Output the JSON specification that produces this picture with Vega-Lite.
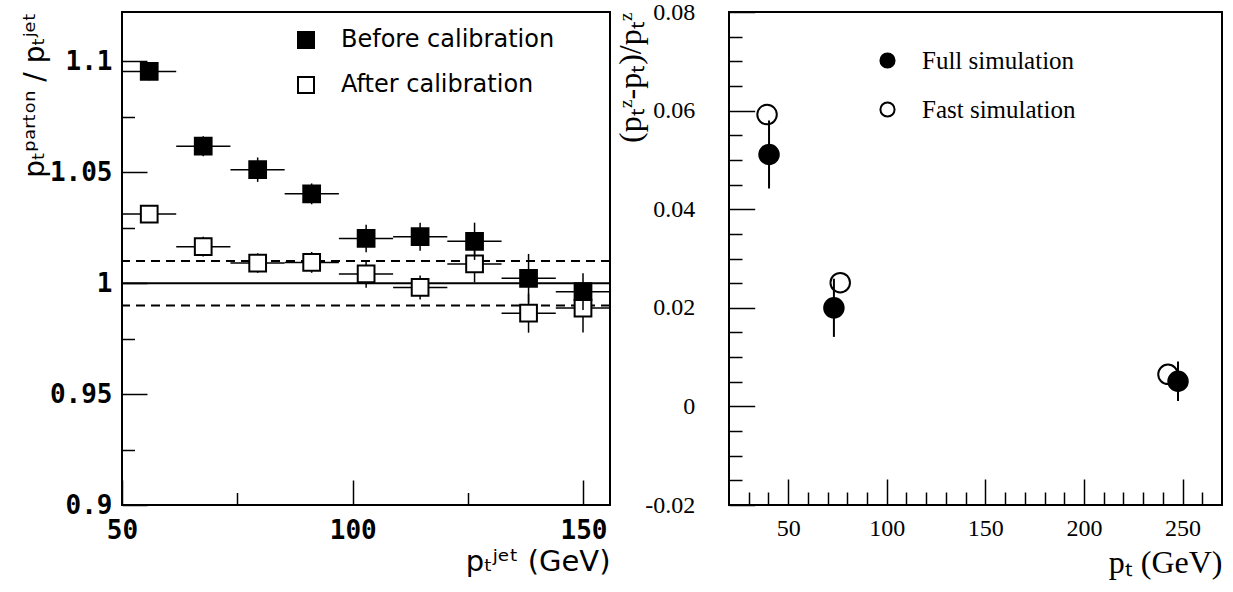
{
  "$schema": "https://vega.github.io/schema/vega-lite/v6.json",
  "padding": {"left": 20, "top": -1, "right": 5, "bottom": 5},
  "config": {
    "view": {"stroke": "black", "strokeWidth": 2},
    "axis": {"grid": false, "domain": false, "tickColor": "black", "labelColor": "black", "titleColor": "black", "labelFlush": false, "labelOverlap": false, "tickWidth": 1.5, "titleFontWeight": "normal"}
  },
  "datasets": {
    "calib": [
      {"series": "Before calibration", "pt": 55.9, "ptlo": 50, "pthi": 61.75, "r": 1.0955, "rlo": 1.0915, "rhi": 1.0995},
      {"series": "Before calibration", "pt": 67.6, "ptlo": 61.75, "pthi": 73.5, "r": 1.0618, "rlo": 1.0573, "rhi": 1.0663},
      {"series": "Before calibration", "pt": 79.4, "ptlo": 73.5, "pthi": 85.25, "r": 1.0512, "rlo": 1.0457, "rhi": 1.0567},
      {"series": "Before calibration", "pt": 91.1, "ptlo": 85.25, "pthi": 97, "r": 1.0403, "rlo": 1.0356, "rhi": 1.045},
      {"series": "Before calibration", "pt": 102.9, "ptlo": 97, "pthi": 108.75, "r": 1.0202, "rlo": 1.014, "rhi": 1.0264},
      {"series": "Before calibration", "pt": 114.6, "ptlo": 108.75, "pthi": 120.5, "r": 1.021, "rlo": 1.0147, "rhi": 1.0273},
      {"series": "Before calibration", "pt": 126.4, "ptlo": 120.5, "pthi": 132.25, "r": 1.0189, "rlo": 1.0105, "rhi": 1.0273},
      {"series": "Before calibration", "pt": 138.1, "ptlo": 132.25, "pthi": 144, "r": 1.0022, "rlo": 0.9912, "rhi": 1.0132},
      {"series": "Before calibration", "pt": 149.9, "ptlo": 144, "pthi": 155.75, "r": 0.9962, "rlo": 0.9879, "rhi": 1.0045},
      {"series": "After calibration", "pt": 55.9, "ptlo": 50, "pthi": 61.75, "r": 1.0312, "rlo": 1.0272, "rhi": 1.0352},
      {"series": "After calibration", "pt": 67.6, "ptlo": 61.75, "pthi": 73.5, "r": 1.0165, "rlo": 1.012, "rhi": 1.021},
      {"series": "After calibration", "pt": 79.4, "ptlo": 73.5, "pthi": 85.25, "r": 1.0091, "rlo": 1.0047, "rhi": 1.0135},
      {"series": "After calibration", "pt": 91.1, "ptlo": 85.25, "pthi": 97, "r": 1.0094, "rlo": 1.0047, "rhi": 1.0141},
      {"series": "After calibration", "pt": 102.9, "ptlo": 97, "pthi": 108.75, "r": 1.0042, "rlo": 0.998, "rhi": 1.0104},
      {"series": "After calibration", "pt": 114.6, "ptlo": 108.75, "pthi": 120.5, "r": 0.9981, "rlo": 0.9927, "rhi": 1.0035},
      {"series": "After calibration", "pt": 126.4, "ptlo": 120.5, "pthi": 132.25, "r": 1.0087, "rlo": 1.0004, "rhi": 1.017},
      {"series": "After calibration", "pt": 138.1, "ptlo": 132.25, "pthi": 144, "r": 0.9865, "rlo": 0.9777, "rhi": 0.9953},
      {"series": "After calibration", "pt": 149.9, "ptlo": 144, "pthi": 155.75, "r": 0.9888, "rlo": 0.9778, "rhi": 0.9998}
    ],
    "sim": [
      {"sim": "Full simulation", "pt": 40.3, "d": 0.0511, "dlo": 0.0442, "dhi": 0.058},
      {"sim": "Full simulation", "pt": 73.2, "d": 0.020, "dlo": 0.0141, "dhi": 0.0259},
      {"sim": "Full simulation", "pt": 247.7, "d": 0.0051, "dlo": 0.0011, "dhi": 0.0091},
      {"sim": "Fast simulation", "pt": 39.3, "d": 0.0592},
      {"sim": "Fast simulation", "pt": 76.4, "d": 0.0251},
      {"sim": "Fast simulation", "pt": 242.6, "d": 0.0065}
    ]
  },
  "spacing": 1,
  "resolve": {"scale": {"fill": "independent"}, "legend": {"fill": "independent"}},
  "hconcat": [
    {
      "width": 488,
      "height": 493,
      "resolve": {"axis": {"x": "independent", "y": "independent"}},
      "layer": [
        {
          "data": {"values": [{"ref": 0.99}, {"ref": 1.01}]},
          "mark": {"type": "rule", "strokeDash": [9, 6], "strokeWidth": 2, "color": "black"},
          "encoding": {"y": {"field": "ref", "type": "quantitative", "scale": {"domain": [0.9, 1.1223], "nice": false, "zero": false}, "axis": null}}
        },
        {
          "data": {"values": [{"ref": 1}]},
          "mark": {"type": "rule", "strokeWidth": 2, "color": "black"},
          "encoding": {"y": {"field": "ref", "type": "quantitative", "axis": null}}
        },
        {
          "data": {"name": "calib"},
          "transform": [{"filter": "datum.series == 'After calibration'"}],
          "mark": {"type": "rule", "strokeWidth": 1.5, "color": "black"},
          "encoding": {
            "x": {"field": "ptlo", "type": "quantitative", "scale": {"domain": [50, 155.75], "nice": false, "zero": false},
              "axis": {"orient": "bottom", "values": [50, 100, 150], "tickSize": -25, "labelPadding": 37, "labelFont": "DejaVu Sans Mono", "labelFontWeight": "bold", "labelFontSize": 26,
                "title": "pₜʲᵉᵗ (GeV)", "titleFont": "DejaVu Sans", "titleFontSize": 29, "titleAnchor": "end", "titlePadding": 4}},
            "x2": {"field": "pthi"},
            "y": {"field": "r", "type": "quantitative",
              "axis": {"orient": "left", "values": [0.9, 0.95, 1, 1.05, 1.1], "format": "~g", "tickSize": -25, "labelPadding": 35, "labelFont": "DejaVu Sans Mono", "labelFontWeight": "bold", "labelFontSize": 26,
                "title": "pₜᵖᵃʳᵗᵒⁿ / pₜʲᵉᵗ", "titleFont": "DejaVu Sans", "titleFontSize": 28, "titleAnchor": "end", "titlePadding": 0}}
          }
        },
        {
          "data": {"name": "calib"},
          "transform": [{"filter": "datum.series == 'After calibration'"}],
          "mark": {"type": "rule", "strokeWidth": 1.5, "color": "black"},
          "encoding": {
            "x": {"field": "pt", "type": "quantitative", "axis": {"orient": "bottom", "values": [75, 125], "tickSize": -12.5, "labels": false, "title": null}},
            "y": {"field": "rlo", "type": "quantitative", "axis": {"orient": "left", "values": [0.925, 0.975, 1.025, 1.075], "tickSize": -12.5, "labels": false, "title": null}},
            "y2": {"field": "rhi"}
          }
        },
        {
          "data": {"name": "calib"},
          "transform": [{"filter": "datum.series == 'After calibration'"}],
          "mark": {"type": "point", "shape": "square", "filled": true, "size": 280, "stroke": "black", "strokeWidth": 2, "opacity": 1},
          "encoding": {
            "x": {"field": "pt", "type": "quantitative", "axis": null},
            "y": {"field": "r", "type": "quantitative", "axis": null},
            "fill": {"field": "series", "type": "nominal", "scale": {"domain": ["Before calibration", "After calibration"], "range": ["black", "white"]},
              "legend": {"orient": "none", "legendX": 172, "legendY": 16, "title": null, "symbolType": "square", "symbolSize": 256, "symbolStrokeColor": "black", "symbolStrokeWidth": 2, "symbolOpacity": 1,
                "labelFont": "DejaVu Sans", "labelFontSize": 24, "labelColor": "black", "labelOffset": 23, "rowPadding": 21, "labelLimit": 400, "padding": 0}}
          }
        },
        {
          "data": {"name": "calib"},
          "transform": [{"filter": "datum.series == 'Before calibration'"}],
          "mark": {"type": "rule", "strokeWidth": 1.5, "color": "black"},
          "encoding": {
            "x": {"field": "ptlo", "type": "quantitative", "axis": null},
            "x2": {"field": "pthi"},
            "y": {"field": "r", "type": "quantitative", "axis": null}
          }
        },
        {
          "data": {"name": "calib"},
          "transform": [{"filter": "datum.series == 'Before calibration'"}],
          "mark": {"type": "rule", "strokeWidth": 1.5, "color": "black"},
          "encoding": {
            "x": {"field": "pt", "type": "quantitative", "axis": null},
            "y": {"field": "rlo", "type": "quantitative", "axis": null},
            "y2": {"field": "rhi"}
          }
        },
        {
          "data": {"name": "calib"},
          "transform": [{"filter": "datum.series == 'Before calibration'"}],
          "mark": {"type": "point", "shape": "square", "filled": true, "size": 280, "stroke": "black", "strokeWidth": 2, "opacity": 1},
          "encoding": {
            "x": {"field": "pt", "type": "quantitative", "axis": null},
            "y": {"field": "r", "type": "quantitative", "axis": null},
            "fill": {"field": "series", "type": "nominal"}
          }
        }
      ]
    },
    {
      "width": 493,
      "height": 493,
      "resolve": {"axis": {"x": "independent", "y": "independent"}},
      "layer": [
        {
          "data": {"name": "sim"},
          "transform": [{"filter": "datum.sim == 'Fast simulation'"}],
          "mark": {"type": "point", "shape": "circle", "filled": true, "size": 380, "stroke": "black", "strokeWidth": 2, "opacity": 1},
          "encoding": {
            "x": {"field": "pt", "type": "quantitative", "scale": {"domain": [20, 270], "nice": false, "zero": false},
              "axis": {"orient": "bottom", "values": [30, 40, 60, 70, 80, 90, 110, 120, 130, 140, 160, 170, 180, 190, 210, 220, 230, 240, 260], "tickSize": -13, "labels": false, "title": null}},
            "y": {"field": "d", "type": "quantitative", "scale": {"domain": [-0.02, 0.08], "nice": false, "zero": false},
              "axis": {"orient": "left", "values": [-0.015, -0.01, -0.005, 0.005, 0.01, 0.015, 0.025, 0.03, 0.035, 0.045, 0.05, 0.055, 0.065, 0.07, 0.075], "tickSize": -13, "labels": false, "title": null}},
            "fill": {"field": "sim", "type": "nominal", "scale": {"domain": ["Full simulation", "Fast simulation"], "range": ["black", "white"]},
              "legend": {"orient": "none", "legendX": 146, "legendY": 36, "title": null, "symbolType": "circle", "symbolSize": 200, "symbolStrokeColor": "black", "symbolStrokeWidth": 2, "symbolOpacity": 1,
                "labelFont": "Liberation Serif", "labelFontSize": 25, "labelColor": "black", "labelOffset": 22, "rowPadding": 23, "labelLimit": 400, "padding": 0}}
          }
        },
        {
          "data": {"name": "sim"},
          "transform": [{"filter": "datum.sim == 'Full simulation'"}],
          "mark": {"type": "rule", "strokeWidth": 2, "color": "black"},
          "encoding": {
            "x": {"field": "pt", "type": "quantitative",
              "axis": {"orient": "bottom", "values": [50, 100, 150, 200, 250], "tickSize": -26, "labelPadding": 37, "labelFont": "Liberation Serif", "labelFontSize": 24,
                "title": "pₜ (GeV)", "titleFont": "Liberation Serif", "titleFontSize": 32, "titleAnchor": "end", "titlePadding": 7}},
            "y": {"field": "dlo", "type": "quantitative",
              "axis": {"orient": "left", "values": [-0.02, 0, 0.02, 0.04, 0.06, 0.08], "format": "~g", "labelExpr": "replace(datum.label, '−', '-')", "tickSize": -25.7, "labelPadding": 60, "labelFont": "Liberation Serif", "labelFontSize": 24,
                "title": "(pₜᶻ-pₜ)/pₜᶻ", "titleFont": "Liberation Serif", "titleFontSize": 32, "titleAnchor": "end", "titlePadding": -3}},
            "y2": {"field": "dhi"}
          }
        },
        {
          "data": {"name": "sim"},
          "transform": [{"filter": "datum.sim == 'Full simulation'"}],
          "mark": {"type": "point", "shape": "circle", "filled": true, "size": 380, "stroke": "black", "strokeWidth": 2, "opacity": 1},
          "encoding": {
            "x": {"field": "pt", "type": "quantitative", "axis": null},
            "y": {"field": "d", "type": "quantitative", "axis": null},
            "fill": {"field": "sim", "type": "nominal"}
          }
        }
      ]
    }
  ]
}
